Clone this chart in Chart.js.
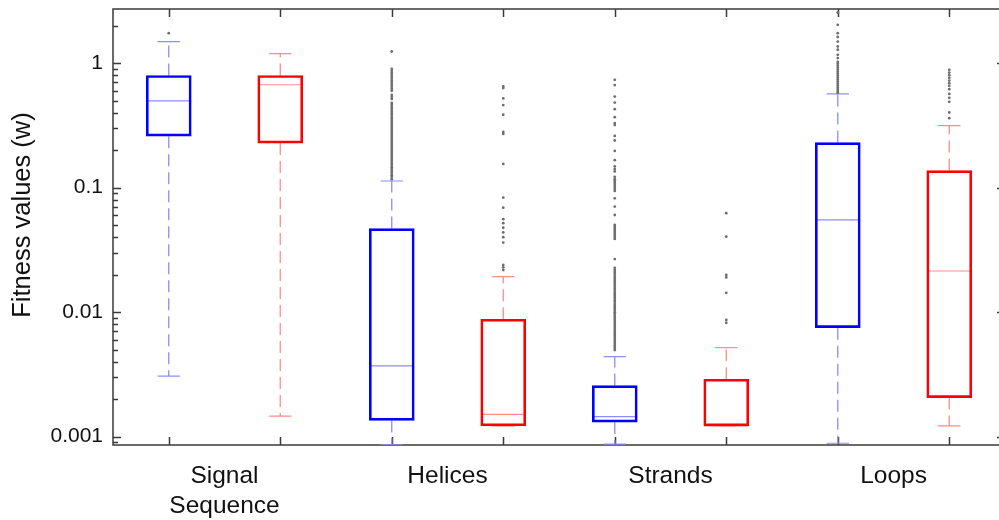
<!DOCTYPE html>
<html>
<head>
<meta charset="utf-8">
<title>Fitness values</title>
<script src="https://cdn.jsdelivr.net/npm/chart.js@4.4.1/dist/chart.umd.min.js"></script>
<style>
    html, body { margin: 0; padding: 0; background: #fff; overflow: hidden; }
    #wrap { position: relative; width: 999px; height: 520px; }
</style>
</head>
<body>
<div id="wrap"><canvas id="fitnessChart"></canvas></div>
<script>
// DONNÉES
const groups = ['Signal Sequence', 'Helices', 'Strands', 'Loops'];
// une boîte bleue puis une rouge par groupe
const positions = [1, 2, 3, 4, 5, 6, 7, 8];
const boxColors = ['#0000ff', '#ff0000', '#0000ff', '#ff0000', '#0000ff', '#ff0000', '#0000ff', '#ff0000'];
const lightColors = ['#8c8cff', '#ff8c8c', '#8c8cff', '#ff8c8c', '#8c8cff', '#ff8c8c', '#8c8cff', '#ff8c8c'];

const lowerWhisker = [0.00306, 0.00146, 0.00086, 0.00122, 0.00087, 0.00122, 0.000885, 0.00122];
const q1 = [0.259, 0.228, 0.00135, 0.00122, 0.00131, 0.00122, 0.0075, 0.00206];
const median = [0.498, 0.67, 0.0037, 0.00151, 0.00145, 0.00122, 0.0551, 0.0214];
const q3 = [0.795, 0.795, 0.0469, 0.00877, 0.00257, 0.00289, 0.23, 0.137];
const upperWhisker = [1.49, 1.19, 0.113, 0.0193, 0.00439, 0.00519, 0.567, 0.315];

const outliers = [
    [1.74],
    [],
    [1.24, 0.90, 0.867, 0.836, 0.805, 0.776, 0.748, 0.72, 0.694, 0.669, 0.645, 0.621, 0.599,
     0.556, 0.536, 0.516, 0.479, 0.462, 0.445, 0.429, 0.413, 0.398, 0.384, 0.37, 0.356,
     0.343, 0.331, 0.319, 0.307, 0.296, 0.285, 0.275, 0.265, 0.255, 0.246, 0.237, 0.228,
     0.22, 0.212, 0.204, 0.197, 0.19, 0.183, 0.176, 0.17, 0.164, 0.158, 0.152, 0.146,
     0.141, 0.136, 0.131, 0.126, 0.122, 0.117],
    [0.65, 0.63, 0.52, 0.46, 0.385, 0.28, 0.27, 0.155, 0.0832, 0.069, 0.0558, 0.0518,
     0.0476, 0.0437, 0.04, 0.0362, 0.0239, 0.0229, 0.0218],
    [0.734, 0.666, 0.539, 0.482, 0.427, 0.368, 0.33, 0.318, 0.26, 0.239, 0.197, 0.166,
     0.148, 0.141, 0.135, 0.122, 0.117, 0.113, 0.109, 0.105, 0.101, 0.0975, 0.094,
     0.082, 0.0705, 0.0603, 0.0501, 0.0483, 0.0466, 0.0449, 0.0432, 0.0417, 0.0402, 0.0387,
     0.0267, 0.0227, 0.0218, 0.021, 0.0203, 0.0195, 0.0188, 0.0181, 0.0175, 0.0168, 0.0162,
     0.0156, 0.0151, 0.0145, 0.014, 0.0135, 0.013, 0.0125, 0.0121, 0.0116, 0.0112, 0.0108,
     0.0104, 0.01, 0.00965, 0.0093, 0.00896, 0.00864, 0.00832, 0.00802, 0.00773, 0.00745,
     0.00718, 0.00692, 0.00667, 0.00643, 0.00619, 0.00597, 0.00575, 0.00554, 0.00534,
     0.00515, 0.00496],
    [0.0623, 0.0404, 0.0199, 0.019, 0.0143, 0.00865, 0.0082],
    [2.55, 2.03, 1.74, 1.62, 1.49, 1.36, 1.28, 1.166, 1.097, 1.024, 0.987, 0.951, 0.917,
     0.884, 0.851, 0.821, 0.791, 0.762, 0.735, 0.708, 0.682, 0.658, 0.634, 0.611, 0.589, 0.577],
    [0.884, 0.84, 0.80, 0.762, 0.724, 0.69, 0.657, 0.618, 0.566, 0.526, 0.489, 0.401, 0.361]
];

const yTicks = [0.001, 0.01, 0.1, 1];
const yTickLabels = ['0.001', '0.01', '0.1', '1'];
const yRange = [0.000857, 2.72];
// la fenêtre coupe le cadre à droite : l'axe va jusqu'à 8.5, on n'en voit que 8.446
const xRange = [0.5, 8.446];
const xFrameEnd = 8.5;
const yTitle = 'Fitness values (w)';

const CAP = 0.1;   // demi-largeur des moustaches (unités de l'axe x)
const HALF = 0.2;  // demi-largeur de la boîte


// CONSTRUCTION DES SÉRIES
const gap = p => ({ x: p, y: null });

function whiskerPoints(color) {
    let pts = [];
    positions.forEach((p, i) => {
        if (boxColors[i] !== color) return;
        pts.push({ x: p, y: q3[i] }, { x: p, y: upperWhisker[i] }, gap(p));
        pts.push({ x: p, y: q1[i] }, { x: p, y: lowerWhisker[i] }, gap(p));
    });
    return pts;
}

function capPoints(color) {
    let pts = [];
    positions.forEach((p, i) => {
        if (boxColors[i] !== color) return;
        pts.push({ x: p - CAP, y: upperWhisker[i] }, { x: p + CAP, y: upperWhisker[i] }, gap(p));
        pts.push({ x: p - CAP, y: lowerWhisker[i] }, { x: p + CAP, y: lowerWhisker[i] }, gap(p));
    });
    return pts;
}

function medianPoints(color) {
    let pts = [];
    positions.forEach((p, i) => {
        if (boxColors[i] !== color) return;
        pts.push({ x: p - HALF, y: median[i] }, { x: p + HALF, y: median[i] }, gap(p));
    });
    return pts;
}

const outlierPoints = [];
outliers.forEach((list, i) => list.forEach(v => outlierPoints.push({ x: positions[i], y: v })));

const lineStyle = (data, color, dash) => ({
    type: 'line',
    data: data,
    borderColor: color,
    borderWidth: dash ? 1.3 : 1.2,
    borderDash: dash || [],
    pointRadius: 0,
    spanGaps: false,
    order: 3
});

const blue = '#0000ff', red = '#ff0000';
const FONT = '"Liberation Sans", Arial, Helvetica, sans-serif';


// CADRE, GRADUATIONS INTÉRIEURES ET TITRE DE L'AXE Y
const frame = {
    id: 'frame',
    beforeDatasetsDraw(chart) {
        const { ctx, chartArea: a, scales: { x, y } } = chart;
        const right = x.getPixelForValue(xFrameEnd);
        ctx.save();
        ctx.strokeStyle = '#3a3a3a';
        ctx.lineWidth = 1.5;
        ctx.strokeRect(a.left, a.top, right - a.left, a.bottom - a.top);
        ctx.beginPath();
        for (let e = -4; e <= 0; e++) {
            for (let m = 1; m <= 9; m++) {
                const v = m * Math.pow(10, e);
                if (v < y.min || v > y.max) continue;
                const py = Math.round(y.getPixelForValue(v)) + 0.5;
                const len = m === 1 ? 8 : 5;
                ctx.moveTo(a.left, py); ctx.lineTo(a.left + len, py);
                ctx.moveTo(right, py); ctx.lineTo(right - len, py);
            }
        }
        positions.forEach(p => {
            const px = Math.round(x.getPixelForValue(p)) + 0.5;
            ctx.moveTo(px, a.top); ctx.lineTo(px, a.top + 8);
            ctx.moveTo(px, a.bottom); ctx.lineTo(px, a.bottom - 8);
        });
        ctx.stroke();

        // titre vertical, un peu au-dessus du centre
        ctx.translate(23, (a.top + a.bottom) / 2 - 12);
        ctx.rotate(-Math.PI / 2);
        ctx.font = '25.5px ' + FONT;
        ctx.fillStyle = '#111';
        ctx.textAlign = 'center';
        ctx.textBaseline = 'middle';
        ctx.fillText(yTitle, 0, 0);
        ctx.restore();
    }
};


// GRAPHIQUE
Chart.defaults.font.family = FONT;
Chart.defaults.color = '#111';

const ctx = document.getElementById('fitnessChart').getContext('2d');
new Chart(ctx, {
    type: 'bar',
    data: {
        datasets: [
            {
                type: 'scatter',
                data: outlierPoints,
                pointRadius: 1.4,
                pointBorderWidth: 0,
                pointBackgroundColor: '#6e6e6e',
                order: 0
            },
            {
                type: 'bar',
                data: positions.map((p, i) => ({ x: p, y: [q1[i], q3[i]] })),
                backgroundColor: 'rgba(0,0,0,0)',
                borderColor: boxColors,
                borderWidth: 2,
                borderSkipped: false,
                barThickness: 45,
                grouped: false,
                order: 1
            },
            lineStyle(medianPoints(blue), lightColors[0]),
            lineStyle(medianPoints(red), lightColors[1]),
            lineStyle(whiskerPoints(blue), lightColors[0], [12, 6]),
            lineStyle(whiskerPoints(red), lightColors[1], [12, 6]),
            lineStyle(capPoints(blue), lightColors[0]),
            lineStyle(capPoints(red), lightColors[1])
        ]
    },
    options: {
        responsive: true,
        maintainAspectRatio: false,
        devicePixelRatio: 1,
        animation: false,
        layout: {
            autoPadding: false, // sinon Chart.js réserve de la place à droite pour les points
            padding: { top: 9, left: 0, right: 0, bottom: 0 }
        },
        plugins: {
            legend: { display: false },
            tooltip: { enabled: false }
        },
        scales: {
            x: {
                type: 'linear',
                offset: false,
                bounds: 'data',
                min: xRange[0],
                max: xRange[1],
                grid: { display: false, drawTicks: false },
                border: { display: false },
                afterBuildTicks: scale => {
                    scale.ticks = groups.map((g, k) => ({ value: (positions[2 * k] + positions[2 * k + 1]) / 2 }));
                },
                afterFit: scale => {
                    scale.height = 75;
                    scale.paddingLeft = 0;
                    scale.paddingRight = 0;
                },
                ticks: {
                    autoSkip: false,
                    maxRotation: 0,
                    padding: 16,
                    font: { size: 24.5, lineHeight: 1.22 },
                    color: '#111',
                    callback: (value, index) => groups[index].split(' ')
                }
            },
            y: {
                type: 'logarithmic',
                min: yRange[0],
                max: yRange[1],
                grid: { display: false, drawTicks: false },
                border: { display: false },
                afterBuildTicks: scale => {
                    scale.ticks = yTicks.map(v => ({ value: v }));
                },
                afterFit: scale => {
                    scale.width = 113;
                    scale.paddingTop = 0;
                    scale.paddingBottom = 0;
                },
                ticks: {
                    autoSkip: false,
                    padding: 10,
                    font: { size: 21 },
                    color: '#111',
                    callback: (value, index) => yTickLabels[index]
                }
            }
        }
    },
    plugins: [frame]
});
</script>
</body>
</html>
